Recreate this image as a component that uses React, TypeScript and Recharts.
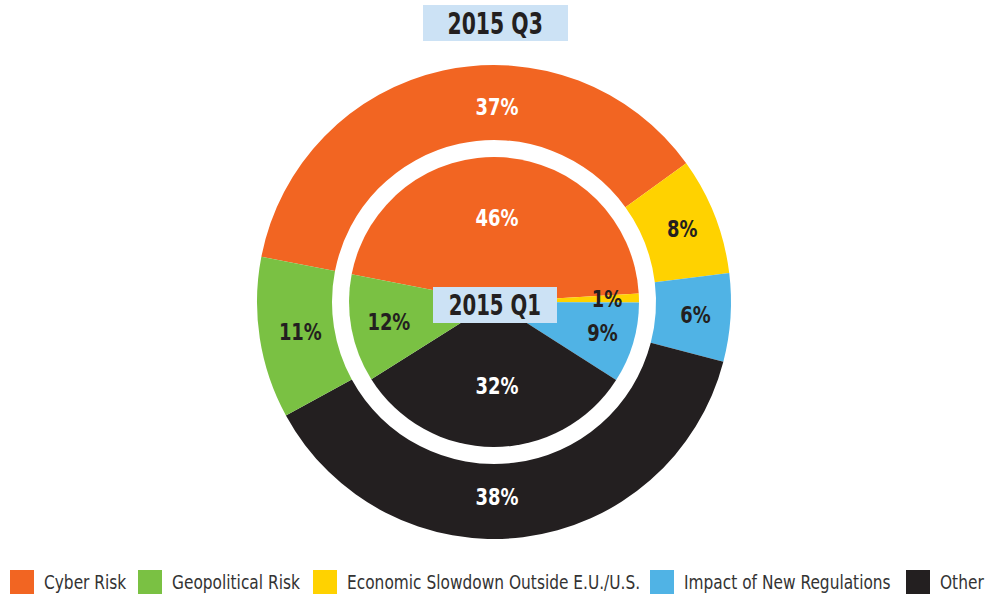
import { PieChart, Pie, Cell, Legend } from 'recharts';

const categories = ['Cyber Risk', 'Geopolitical Risk', 'Economic Slowdown Outside E.U./U.S.', 'Impact of New Regulations', 'Other'];
const colors = ['#f26522', '#7ac143', '#ffd200', '#50b3e5', '#231f20'];
const labelColors = ['#ffffff', '#231f20', '#231f20', '#231f20', '#ffffff'];

// slice order around the ring (clockwise from the left)
const sliceOrder = ['Cyber Risk', 'Economic Slowdown Outside E.U./U.S.', 'Impact of New Regulations', 'Other', 'Geopolitical Risk'];
const q3Values = [37, 8, 6, 38, 11];
const q1Values = [46, 1, 9, 32, 12];

const FONT = '"DejaVu Sans", sans-serif';
const RAD = Math.PI / 180;
// x of each legend swatch
const legendX = [10, 138, 313, 650, 906];

const q3Data = sliceOrder.map((name, i) => ({ name, value: q3Values[i] }));
const q1Data = sliceOrder.map((name, i) => ({ name, value: q1Values[i] }));

function makeLabel(radiusFor: (value: number) => number) {
  return (props: any) => {
    const { cx, cy, midAngle, value, name } = props;
    // big slices get their label centred at the top / bottom
    const angle = value > 30 ? (Math.sin(midAngle * RAD) > 0 ? 90 : -90) : midAngle;
    const r = radiusFor(value);
    const x = cx + 3 + r * Math.cos(-angle * RAD);
    const y = cy + r * Math.sin(-angle * RAD);
    const idx = categories.indexOf(name);
    return (
      <text x={0} y={0} transform={`translate(${x},${y}) scale(0.78,1)`} fill={labelColors[idx]}
        textAnchor="middle" dominantBaseline="central"
        style={{ fontFamily: FONT, fontWeight: 700, fontSize: 23 }}>
        {value}%
      </text>
    );
  };
}

function LegendContent() {
  return (
    <div style={{ position: 'relative', height: 26, fontFamily: FONT, fontSize: 20, color: '#333', whiteSpace: 'nowrap' }}>
      {categories.map((c, i) => (
        <div key={c} style={{ position: 'absolute', left: legendX[i], top: 0, display: 'flex', alignItems: 'center' }}>
          <div style={{ width: 24, height: 24, background: colors[i], marginRight: 10 }} />
          <span style={{ display: 'inline-block', transform: 'scaleX(0.77)', transformOrigin: 'left center' }}>{c}</span>
        </div>
      ))}
    </div>
  );
}

const boxStyle: React.CSSProperties = {
  position: 'absolute',
  background: '#cce2f5',
  color: '#231f20',
  fontFamily: FONT,
  fontWeight: 700,
  whiteSpace: 'nowrap',
  display: 'flex',
  alignItems: 'center',
  justifyContent: 'center',
};

export default function App() {
  return (
    <div style={{ position: 'absolute', left: 0, top: 0, width: 985, height: 595, background: '#fff' }}>
      <PieChart width={985} height={595} margin={{ top: 0, right: 0, bottom: 0, left: 0 }}>
        <Pie data={q3Data} dataKey="value" nameKey="name" cx={494} cy={302}
          innerRadius={162} outerRadius={237} startAngle={169} endAngle={-191}
          stroke="none" isAnimationActive={false} labelLine={false}
          label={makeLabel((v) => (v > 30 ? 195 : 199))}>
          {q3Data.map((d) => (
            <Cell key={d.name} fill={colors[categories.indexOf(d.name)]} />
          ))}
        </Pie>
        <Pie data={q1Data} dataKey="value" nameKey="name" cx={494} cy={302}
          innerRadius={0} outerRadius={145} startAngle={169} endAngle={-191}
          stroke="none" isAnimationActive={false} labelLine={false}
          label={makeLabel((v) => (v > 20 ? 84 : 110))}>
          {q1Data.map((d) => (
            <Cell key={d.name} fill={colors[categories.indexOf(d.name)]} />
          ))}
        </Pie>
        <Legend verticalAlign="bottom" align="left" content={<LegendContent />}
          wrapperStyle={{ bottom: -1, left: 0, width: 985 }} />
      </PieChart>
      <div style={{ ...boxStyle, left: 423, top: 5, width: 145, height: 36, fontSize: 30 }}>
        <span style={{ display: 'inline-block', transform: 'scaleX(0.68)' }}>2015 Q3</span>
      </div>
      <div style={{ ...boxStyle, left: 433, top: 287, width: 124, height: 36, fontSize: 29 }}>
        <span style={{ display: 'inline-block', transform: 'scaleX(0.68)' }}>2015 Q1</span>
      </div>
    </div>
  );
}
